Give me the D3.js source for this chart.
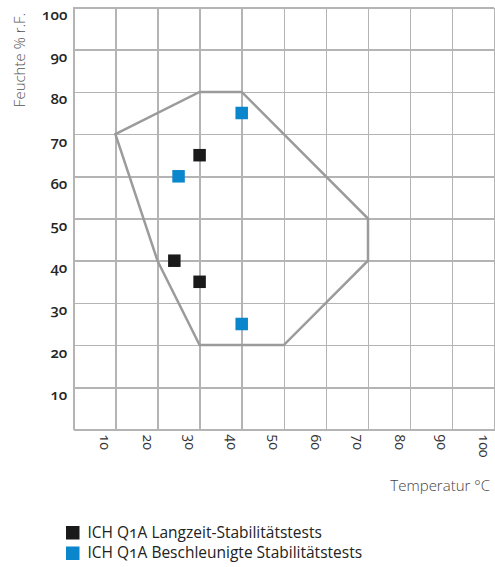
<!DOCTYPE html>
<html>
<head>
<meta charset="utf-8">
<script src="https://cdn.jsdelivr.net/npm/d3@7"></script>
<style>
  html, body { margin: 0; padding: 0; background: #fff; }
  svg { display: block; }
  text { font-family: "Open Sans", "Noto Sans", sans-serif; font-variant-numeric: oldstyle-nums; }
</style>
</head>
<body>
<svg id="chart" width="495" height="567"></svg>
<script>
// ---- data ----
const xTicks = [10, 20, 30, 40, 50, 60, 70, 80, 90, 100];
const yTicks = [10, 20, 30, 40, 50, 60, 70, 80, 90, 100];
const polygonTemp = [10, 30, 40, 70, 70, 50, 30, 20];
const polygonHum  = [70, 80, 80, 50, 40, 20, 20, 40];
const longTermTemp = [30, 24, 30];
const longTermHum  = [65, 40, 35];
const accelTemp = [40, 25, 40];
const accelHum  = [75, 60, 25];
const seriesNames = ["ICH Q1A Langzeit-Stabilitätstests", "ICH Q1A Beschleunigte Stabilitätstests"];
const seriesColors = ["#1a1a1a", "#0a86cc"];
const xTitle = "Temperatur °C";
const yTitle = "Feuchte % r.F.";

// ---- layout ----
const svg = d3.select("#chart");
const x = d3.scaleLinear().domain([0, 100]).range([73.3, 494.3]);
const y = d3.scaleLinear().domain([0, 100]).range([429.5, 7.5]);
const gridColor = "#b4b4b4";

// y axis + horizontal grid
const yAxis = d3.axisLeft(y).tickValues(yTicks).tickSize(-(x(100) - x(0))).tickSizeOuter(0).tickPadding(6);
const gy = svg.append("g").attr("transform", `translate(${x(0)},0)`).call(yAxis);
gy.selectAll(".tick line").attr("stroke", gridColor).attr("stroke-width", 1.5);
gy.select(".domain").attr("stroke", gridColor).attr("stroke-width", 1.5);
gy.selectAll(".tick text")
  .attr("dy", 12)
  .attr("fill", "#262626")
  .style("font-size", "15px")
  .style("font-weight", 600);

// x axis + vertical grid
const xAxis = d3.axisBottom(x).tickValues(xTicks).tickSize(-(y(0) - y(100))).tickSizeOuter(0);
const gx = svg.append("g").attr("transform", `translate(0,${y(0)})`).call(xAxis);
gx.selectAll(".tick line").attr("stroke", gridColor).attr("stroke-width", 1.5);
gx.select(".domain").attr("stroke", gridColor).attr("stroke-width", 1.5);
gx.selectAll(".tick text")
  .attr("transform", "rotate(90)")
  .attr("x", 5)
  .attr("y", 15.5)
  .attr("dy", 0)
  .attr("text-anchor", "start")
  .attr("fill", "#333")
  .style("font-size", "14px")
  .style("font-weight", 400);
svg.selectAll(".domain, .tick line").attr("shape-rendering", "crispEdges");

// polygon
const poly = polygonTemp.map((t, i) => [x(t), y(polygonHum[i])]);
svg.append("path")
  .attr("d", d3.line().curve(d3.curveLinearClosed)(poly))
  .attr("fill", "none")
  .attr("stroke", "#9b9b9b")
  .attr("stroke-width", 2.5)
  .attr("stroke-linejoin", "miter");

// points
const sq = 12.5;
const series = [
  { t: longTermTemp, h: longTermHum, c: seriesColors[0] },
  { t: accelTemp, h: accelHum, c: seriesColors[1] }
];
series.forEach(s => {
  svg.append("g").selectAll("rect")
    .data(s.t.map((t, i) => [t, s.h[i]]))
    .join("rect")
    .attr("x", d => x(d[0]) - sq / 2)
    .attr("y", d => y(d[1]) - sq / 2)
    .attr("width", sq)
    .attr("height", sq)
    .attr("fill", s.c);
});

// axis titles
svg.append("text")
  .attr("transform", "translate(25,60) rotate(-90)")
  .attr("text-anchor", "middle")
  .attr("fill", "#555")
  .style("font-size", "15px")
  .style("font-weight", 300)
  .text(yTitle);

svg.append("text")
  .attr("x", 490)
  .attr("y", 491)
  .attr("text-anchor", "end")
  .attr("fill", "#444")
  .style("font-size", "15px")
  .style("font-weight", 300)
  .text(xTitle);

// legend
const lg = svg.append("g").attr("transform", "translate(66,526)");
seriesNames.forEach((name, i) => {
  const row = lg.append("g").attr("transform", `translate(0,${i * 20.5})`);
  row.append("rect").attr("width", 13.5).attr("height", 13.5).attr("fill", seriesColors[i]);
  row.append("text")
    .attr("x", 21.5)
    .attr("y", 11.5)
    .attr("fill", "#222")
    .style("font-size", "15.5px")
    .text(name);
});
</script>
</body>
</html>
